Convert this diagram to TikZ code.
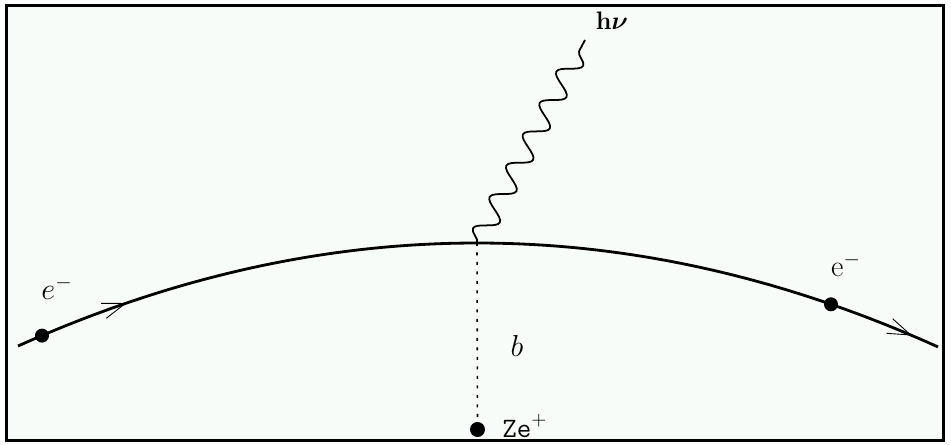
\documentclass[tikz,border=0pt]{standalone}
\usepackage{bm}
\usetikzlibrary{arrows.meta,decorations.pathmorphing,decorations.markings}
\definecolor{paper}{RGB}{247,252,249}
\tikzset{barbtip/.tip={Straight Barb[line width=0.5pt, length=13pt, width=9pt]}}
\begin{document}
\begin{tikzpicture}[x=0.02cm, y=-0.02cm,
  photon/.style={decorate, decoration={snake, segment length=0.71cm, amplitude=0.21cm}}]
  % frame
  \useasboundingbox (0,0) rectangle (951,444);
  \draw[line width=1.7pt, fill=paper] (6.5,5.5) rectangle (943.5,440.5);

  % electron path (parabola with vertex V)
  \draw[line width=1.6pt,
    postaction={decorate, decoration={markings,
      mark=at position 0.123 with {\arrow{barbtip}},
      mark=at position 0.970 with {\arrow{barbtip}}}}]
    plot[domain=18:938, samples=120] (\x, {243+4.89*((\x-477)/100)^2});

  \coordinate (V) at (477,243);
  \coordinate (H) at (585,40);
  \coordinate (eL) at (42,335.6);
  \coordinate (eR) at (831,304.3);
  \coordinate (Z) at (477.5,429.5);

  \fill (eL) circle (0.14cm);
  \fill (eR) circle (0.14cm);
  \fill (Z) circle (0.15cm);

  % photon and impact parameter
  \draw[line width=1pt, photon] (V) -- (H);
  \draw[line width=0.9pt, dash pattern=on 1.7pt off 3.7pt] (V) -- (Z);

  \node[font=\LARGE] (eleft) at (57,288) {$e^-$};
  \node[font=\LARGE] (eright) at (846,265) {$\mathrm{e}^-$};
  \node[font=\LARGE] (blabel) at (517,346) {$b$};
  \node[font=\Large] (hnu) at (612,21) {$\mathbf{h}\bm{\nu}$};
  \node[font=\fontsize{16}{19}\selectfont, anchor=base west, inner sep=0pt] (ze) at (502,437) {\texttt{Ze}$^+$};
\end{tikzpicture}
\end{document}
